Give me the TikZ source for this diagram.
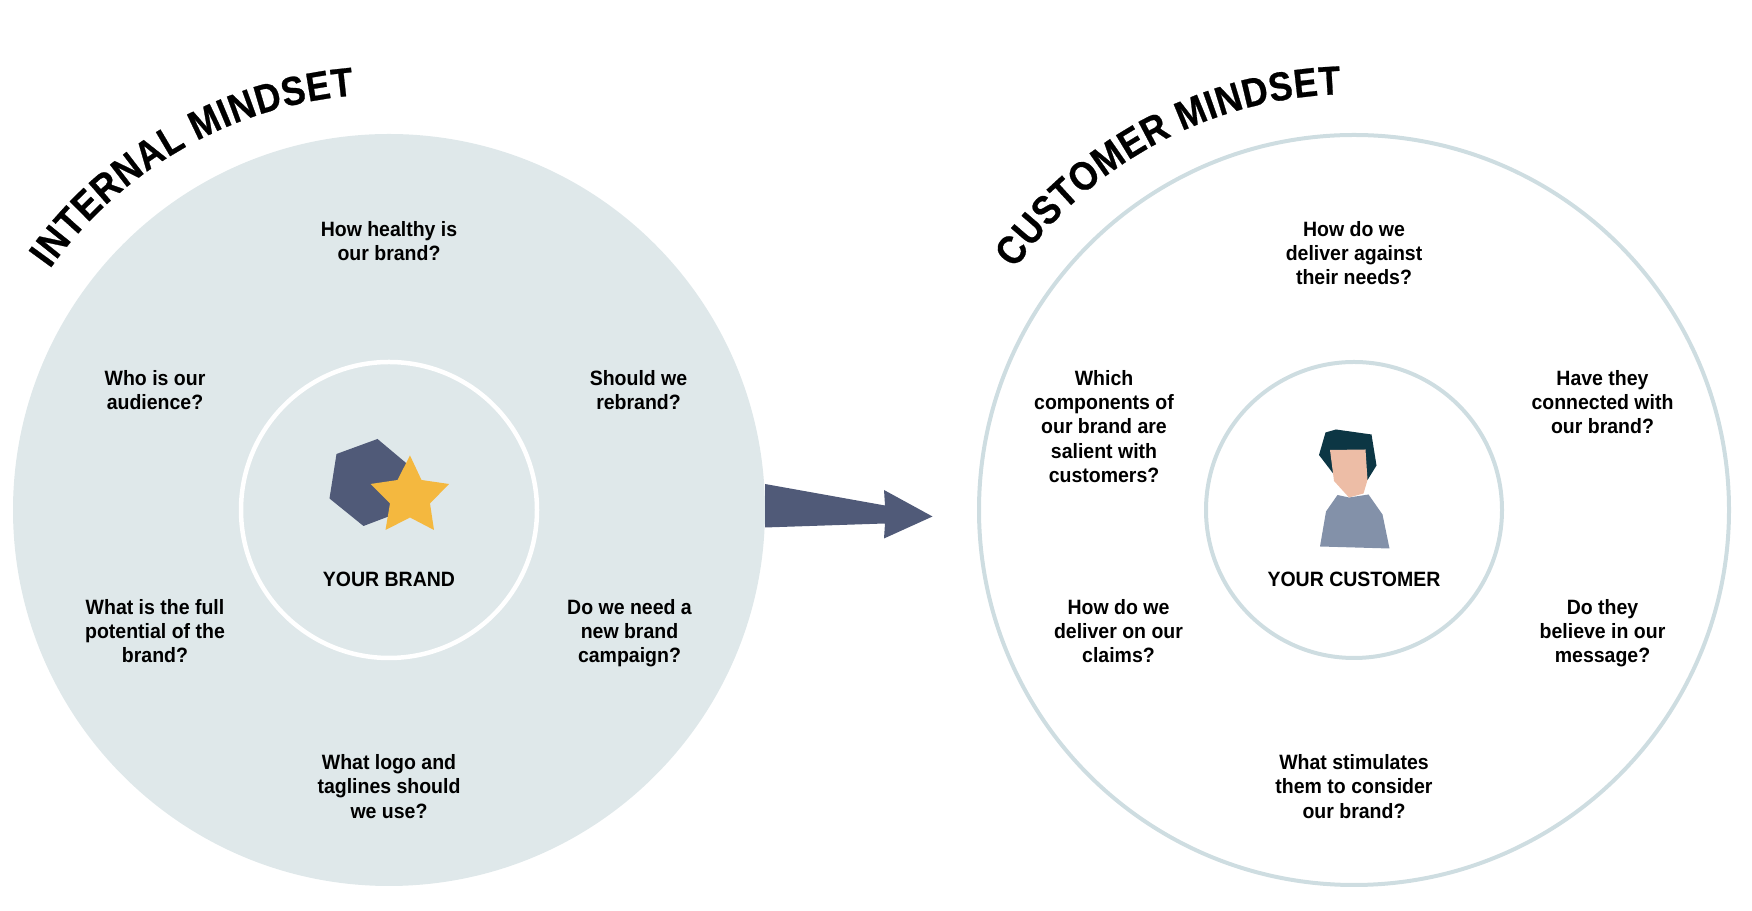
\documentclass[tikz,border=0pt]{standalone}
\usepackage{fontspec}
\setmainfont{Liberation Sans}
\newfontfamily\labelfont[FakeStretch=0.94]{Liberation Sans}
\newfontfamily\titlefont[FakeStretch=0.88,FakeBold=0.6]{Liberation Sans}
\usepackage{xcolor}
\usepackage{tikz}
\usetikzlibrary{positioning,decorations.text}
\definecolor{mistfill}{HTML}{DFE8EA}
\definecolor{mistline}{HTML}{CEDDE1}
\definecolor{slateblue}{HTML}{505A78}
\definecolor{stargold}{HTML}{F4B83F}
\definecolor{hairteal}{HTML}{0C3644}
\definecolor{skintone}{HTML}{EDBDA6}
\definecolor{shirtgray}{HTML}{8391A9}

\begin{document}
\begin{tikzpicture}[
    question/.style={align=center, inner sep=0pt,
                font=\labelfont\fontsize{11.8}{13.75}\selectfont\bfseries},
    caption/.style={question},
    bigring/.style={circle, inner sep=0pt, outer sep=0pt, minimum size=15.04cm},
    smallring/.style={circle, inner sep=0pt, outer sep=0pt, minimum size=5.92cm},
]
\useasboundingbox (0,0) rectangle (35.04,18.22);

% the two big circles
\node[bigring, fill=mistfill] (brandouter) at (7.78, 8.02) {};
\node[smallring, draw=white, line width=0.09cm] (brandinner) at (7.78, 8.02) {};
\node[bigring, minimum size=15.0cm, draw=mistline, line width=0.08cm] (customerouter) at (27.08, 8.02) {};
\node[smallring, draw=mistline, line width=0.08cm] (customerinner) at (27.08, 8.02) {};

% titles
\path[decorate, decoration={text along path, text align=fit to path,
    text={|\titlefont\fontsize{23}{24}\selectfont\bfseries|INTERNAL MINDSET}}]
    (7.78, 8.02) ++(144.6:8.32) arc (144.6:94.8:8.32);
\path[decorate, decoration={text along path, text align=fit to path,
    text={|\titlefont\fontsize{23}{24}\selectfont\bfseries|CUSTOMER MINDSET}}]
    (27.08, 8.02) ++(144.6:8.32) arc (144.6:91.8:8.32);

% brand mark
\fill[slateblue] (6.73,9.14) -- (7.55,9.44) -- (8.30,8.81) -- (7.77,7.89) -- (7.27,7.70) -- (6.59,8.25) -- cycle;
\fill[stargold] (8.20,9.11) -- (8.43,8.62) -- (8.98,8.54) -- (8.60,8.15) -- (8.68,7.62) -- (8.20,7.87)
    -- (7.71,7.62) -- (7.80,8.15) -- (7.41,8.54) -- (7.95,8.62) -- cycle;

% customer figure
\fill[shirtgray] (26.75,8.32) -- (26.98,8.27) -- (27.37,8.33) -- (27.65,7.93) -- (27.79,7.25) -- (26.40,7.29) -- (26.52,7.99) -- cycle;
\fill[hairteal] (26.51,9.57) -- (26.72,9.63) -- (27.43,9.53) -- (27.53,8.91) -- (27.35,8.62) -- (26.67,8.74) -- (26.38,9.12) -- cycle;
\fill[skintone] (26.60,9.22) -- (27.31,9.23) -- (27.35,8.62) -- (27.27,8.35) -- (26.98,8.27) -- (26.68,8.60) -- cycle;

% arrow between the circles
\coordinate (arrowtip) at (18.65, 7.89);
\fill[slateblue] ([yshift=0.52cm]brandouter.east) -- (17.70,8.11) -- (17.68,8.42) -- (arrowtip)
    -- (17.68,7.45) -- (17.70,7.75) -- ([yshift=-0.35cm]brandouter.east) -- cycle;

% internal questions
\node[caption] (yourbrand) at (7.78, 6.64) {YOUR BRAND};
\node[question] (healthy) at (7.78, 13.40) {How healthy is\\our brand?};
\node[question] (audience) at (3.10, 10.42) {Who is our\\audience?};
\node[question] (rebrand) at (12.77, 10.42) {Should we\\rebrand?};
\node[question] (potential) at (3.10, 5.60) {What is the full\\potential of the\\brand?};
\node[question] (campaign) at (12.59, 5.56) {Do we need a\\new brand\\campaign?};
\node[question] (logo) at (7.78, 2.49) {What logo and\\taglines should\\we use?};

% customer questions
\node[caption] (yourcustomer) at (27.08, 6.64) {YOUR CUSTOMER};
\node[question] (needs) at (27.08, 13.16) {How do we\\deliver against\\their needs?};
\node[question] (components) at (22.08, 9.69) {Which\\components of\\our brand are\\salient with\\customers?};
\node[question] (connected) at (32.05, 10.18) {Have they\\connected with\\our brand?};
\node[question] (claims) at (22.37, 5.60) {How do we\\deliver on our\\claims?};
\node[question] (believe) at (32.05, 5.56) {Do they\\believe in our\\message?};
\node[question] (stimulates) at (27.08, 2.49) {What stimulates\\them to consider\\our brand?};

\end{tikzpicture}
\end{document}
